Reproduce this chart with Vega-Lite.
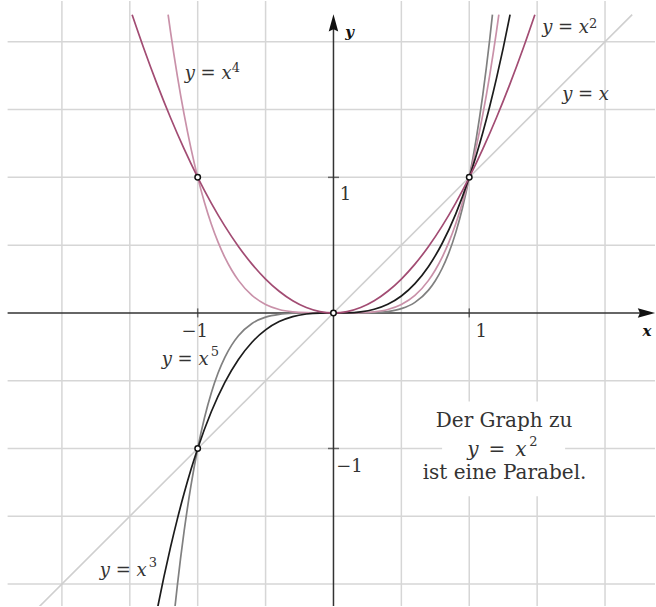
{
  "$schema": "https://vega.github.io/schema/vega-lite/v6.json",
  "autosize": {"type": "fit", "contains": "padding"},
  "width": 656,
  "height": 607,
  "padding": 0,
  "background": "white",
  "config": {"view": {"stroke": null}},
  "datasets": {
    "gridV": [{"v": -2}, {"v": -1.5}, {"v": -1}, {"v": -0.5}, {"v": 0.5}, {"v": 1}, {"v": 1.5}, {"v": 2}],
    "gridH": [{"h": -2}, {"h": -1.5}, {"h": -1}, {"h": -0.5}, {"h": 0.5}, {"h": 1}, {"h": 1.5}, {"h": 2}],
    "diag": [{"x": -2.2, "y": -2.2}, {"x": 2.2, "y": 2.2}],
    "box": [{"x1": 0.8, "x2": 1.706, "y1": -0.654, "y2": -1.353}],
    "curves": [
      {"f": "x5", "x": -1.1708, "y": -2.2}, {"f": "x5", "x": -1.15, "y": -2.0114}, {"f": "x5", "x": -1.1, "y": -1.6105}, {"f": "x5", "x": -1.05, "y": -1.2763}, {"f": "x5", "x": -1.0, "y": -1.0}, {"f": "x5", "x": -0.95, "y": -0.7738}, {"f": "x5", "x": -0.9, "y": -0.5905}, {"f": "x5", "x": -0.85, "y": -0.4437}, {"f": "x5", "x": -0.8, "y": -0.3277}, {"f": "x5", "x": -0.75, "y": -0.2373}, {"f": "x5", "x": -0.7, "y": -0.1681}, {"f": "x5", "x": -0.6, "y": -0.0778}, {"f": "x5", "x": -0.5, "y": -0.0313}, {"f": "x5", "x": -0.4, "y": -0.0102}, {"f": "x5", "x": -0.3, "y": -0.0024}, {"f": "x5", "x": -0.2, "y": -0.0003}, {"f": "x5", "x": -0.1, "y": 0}, {"f": "x5", "x": 0, "y": 0},
      {"f": "x5", "x": 0.1, "y": 0}, {"f": "x5", "x": 0.2, "y": 0.0003}, {"f": "x5", "x": 0.3, "y": 0.0024}, {"f": "x5", "x": 0.4, "y": 0.0102}, {"f": "x5", "x": 0.5, "y": 0.0313}, {"f": "x5", "x": 0.6, "y": 0.0778}, {"f": "x5", "x": 0.7, "y": 0.1681}, {"f": "x5", "x": 0.75, "y": 0.2373}, {"f": "x5", "x": 0.8, "y": 0.3277}, {"f": "x5", "x": 0.85, "y": 0.4437}, {"f": "x5", "x": 0.9, "y": 0.5905}, {"f": "x5", "x": 0.95, "y": 0.7738}, {"f": "x5", "x": 1.0, "y": 1.0}, {"f": "x5", "x": 1.05, "y": 1.2763}, {"f": "x5", "x": 1.1, "y": 1.6105}, {"f": "x5", "x": 1.15, "y": 2.0114}, {"f": "x5", "x": 1.1708, "y": 2.2},
      {"f": "x4", "x": -1.2179, "y": 2.2}, {"f": "x4", "x": -1.2, "y": 2.0736}, {"f": "x4", "x": -1.15, "y": 1.749}, {"f": "x4", "x": -1.1, "y": 1.4641}, {"f": "x4", "x": -1.05, "y": 1.2155}, {"f": "x4", "x": -1.0, "y": 1.0}, {"f": "x4", "x": -0.95, "y": 0.8145}, {"f": "x4", "x": -0.9, "y": 0.6561}, {"f": "x4", "x": -0.85, "y": 0.522}, {"f": "x4", "x": -0.8, "y": 0.4096}, {"f": "x4", "x": -0.75, "y": 0.3164}, {"f": "x4", "x": -0.7, "y": 0.2401}, {"f": "x4", "x": -0.6, "y": 0.1296}, {"f": "x4", "x": -0.5, "y": 0.0625}, {"f": "x4", "x": -0.4, "y": 0.0256}, {"f": "x4", "x": -0.3, "y": 0.0081}, {"f": "x4", "x": -0.2, "y": 0.0016}, {"f": "x4", "x": -0.1, "y": 0.0001}, {"f": "x4", "x": 0, "y": 0},
      {"f": "x4", "x": 0.1, "y": 0.0001}, {"f": "x4", "x": 0.2, "y": 0.0016}, {"f": "x4", "x": 0.3, "y": 0.0081}, {"f": "x4", "x": 0.4, "y": 0.0256}, {"f": "x4", "x": 0.5, "y": 0.0625}, {"f": "x4", "x": 0.6, "y": 0.1296}, {"f": "x4", "x": 0.7, "y": 0.2401}, {"f": "x4", "x": 0.75, "y": 0.3164}, {"f": "x4", "x": 0.8, "y": 0.4096}, {"f": "x4", "x": 0.85, "y": 0.522}, {"f": "x4", "x": 0.9, "y": 0.6561}, {"f": "x4", "x": 0.95, "y": 0.8145}, {"f": "x4", "x": 1.0, "y": 1.0}, {"f": "x4", "x": 1.05, "y": 1.2155}, {"f": "x4", "x": 1.1, "y": 1.4641}, {"f": "x4", "x": 1.15, "y": 1.749}, {"f": "x4", "x": 1.2, "y": 2.0736}, {"f": "x4", "x": 1.2179, "y": 2.2},
      {"f": "x3", "x": -1.3006, "y": -2.2}, {"f": "x3", "x": -1.25, "y": -1.9531}, {"f": "x3", "x": -1.2, "y": -1.728}, {"f": "x3", "x": -1.15, "y": -1.5209}, {"f": "x3", "x": -1.1, "y": -1.331}, {"f": "x3", "x": -1.05, "y": -1.1576}, {"f": "x3", "x": -1.0, "y": -1.0}, {"f": "x3", "x": -0.9, "y": -0.729}, {"f": "x3", "x": -0.8, "y": -0.512}, {"f": "x3", "x": -0.7, "y": -0.343}, {"f": "x3", "x": -0.6, "y": -0.216}, {"f": "x3", "x": -0.5, "y": -0.125}, {"f": "x3", "x": -0.4, "y": -0.064}, {"f": "x3", "x": -0.3, "y": -0.027}, {"f": "x3", "x": -0.2, "y": -0.008}, {"f": "x3", "x": -0.1, "y": -0.001}, {"f": "x3", "x": 0, "y": 0},
      {"f": "x3", "x": 0.1, "y": 0.001}, {"f": "x3", "x": 0.2, "y": 0.008}, {"f": "x3", "x": 0.3, "y": 0.027}, {"f": "x3", "x": 0.4, "y": 0.064}, {"f": "x3", "x": 0.5, "y": 0.125}, {"f": "x3", "x": 0.6, "y": 0.216}, {"f": "x3", "x": 0.7, "y": 0.343}, {"f": "x3", "x": 0.8, "y": 0.512}, {"f": "x3", "x": 0.9, "y": 0.729}, {"f": "x3", "x": 1.0, "y": 1.0}, {"f": "x3", "x": 1.05, "y": 1.1576}, {"f": "x3", "x": 1.1, "y": 1.331}, {"f": "x3", "x": 1.15, "y": 1.5209}, {"f": "x3", "x": 1.2, "y": 1.728}, {"f": "x3", "x": 1.25, "y": 1.9531}, {"f": "x3", "x": 1.3006, "y": 2.2},
      {"f": "x2", "x": -1.4832, "y": 2.2}, {"f": "x2", "x": -1.4, "y": 1.96}, {"f": "x2", "x": -1.3, "y": 1.69}, {"f": "x2", "x": -1.2, "y": 1.44}, {"f": "x2", "x": -1.1, "y": 1.21}, {"f": "x2", "x": -1.0, "y": 1.0}, {"f": "x2", "x": -0.9, "y": 0.81}, {"f": "x2", "x": -0.8, "y": 0.64}, {"f": "x2", "x": -0.7, "y": 0.49}, {"f": "x2", "x": -0.6, "y": 0.36}, {"f": "x2", "x": -0.5, "y": 0.25}, {"f": "x2", "x": -0.4, "y": 0.16}, {"f": "x2", "x": -0.3, "y": 0.09}, {"f": "x2", "x": -0.2, "y": 0.04}, {"f": "x2", "x": -0.1, "y": 0.01}, {"f": "x2", "x": 0, "y": 0},
      {"f": "x2", "x": 0.1, "y": 0.01}, {"f": "x2", "x": 0.2, "y": 0.04}, {"f": "x2", "x": 0.3, "y": 0.09}, {"f": "x2", "x": 0.4, "y": 0.16}, {"f": "x2", "x": 0.5, "y": 0.25}, {"f": "x2", "x": 0.6, "y": 0.36}, {"f": "x2", "x": 0.7, "y": 0.49}, {"f": "x2", "x": 0.8, "y": 0.64}, {"f": "x2", "x": 0.9, "y": 0.81}, {"f": "x2", "x": 1.0, "y": 1.0}, {"f": "x2", "x": 1.1, "y": 1.21}, {"f": "x2", "x": 1.2, "y": 1.44}, {"f": "x2", "x": 1.3, "y": 1.69}, {"f": "x2", "x": 1.4, "y": 1.96}, {"f": "x2", "x": 1.4832, "y": 2.2}
    ],
    "pts": [{"x": -1, "y": 1}, {"x": 1, "y": 1}, {"x": 0, "y": 0}, {"x": -1, "y": -1}],
    "ticksX": [{"t": -1}, {"t": 1}],
    "ticksY": [{"t": -1}, {"t": 1}],
    "curveLabels": [
      {"label": "y = x", "x": -1.0956, "y": 1.728},
      {"label": "y = x", "x": 1.537, "y": 2.066},
      {"label": "y = x", "x": 1.684, "y": 1.574},
      {"label": "y = x", "x": -1.265, "y": -0.382},
      {"label": "y = x", "x": -1.721, "y": -1.941}
    ],
    "boxMath": [{"label": "y\u2002=\u2002x", "x": 0.985, "y": -1.059}],
    "sups": [
      {"label": "4", "x": -0.75, "y": 1.779},
      {"label": "2", "x": 1.882, "y": 2.103},
      {"label": "5", "x": -0.904, "y": -0.316},
      {"label": "3", "x": -1.36, "y": -1.875},
      {"label": "2", "x": 1.441, "y": -0.985}
    ],
    "boxText": [
      {"label": "Der Graph zu", "x": 1.257, "y": -0.838},
      {"label": "ist eine Parabel.", "x": 1.26, "y": -1.228}
    ],
    "tickLabels": [
      {"label": "1", "x": 1.088, "y": -0.176},
      {"label": "−1", "x": -1.022, "y": -0.176},
      {"label": "1", "x": 0.088, "y": 0.831},
      {"label": "−1", "x": 0.118, "y": -1.176}
    ],
    "axisNames": [
      {"label": "x", "x": 2.309, "y": -0.169},
      {"label": "y", "x": 0.118, "y": 2.037}
    ],
    "arrowX": [{"x": 2.305, "y": 0}],
    "arrowY": [{"x": 0, "y": 2.14}]
  },
  "encoding": {
    "x": {"type": "quantitative", "scale": {"domain": [-2.456, 2.368], "nice": false, "zero": false}, "axis": null},
    "y": {"type": "quantitative", "scale": {"domain": [-2.162, 2.301], "nice": false, "zero": false}, "axis": null}
  },
  "layer": [
    {
      "data": {"name": "gridV"},
      "mark": {"type": "rule", "color": "#d6d6d6", "strokeWidth": 1.5},
      "encoding": {"x": {"field": "v", "type": "quantitative"}}
    },
    {
      "data": {"name": "gridH"},
      "mark": {"type": "rule", "color": "#d6d6d6", "strokeWidth": 1.5, "clip": true},
      "encoding": {
        "y": {"field": "h", "type": "quantitative"},
        "x": {"datum": -2.4},
        "x2": {"datum": 2.5}
      }
    },
    {
      "data": {"name": "diag"},
      "mark": {"type": "line", "color": "#cfcfcf", "strokeWidth": 1.6, "clip": true},
      "encoding": {"x": {"field": "x", "type": "quantitative"}, "y": {"field": "y", "type": "quantitative"}}
    },
    {
      "data": {"name": "box"},
      "mark": {"type": "rect", "color": "white"},
      "encoding": {
        "x": {"field": "x1", "type": "quantitative"},
        "x2": {"field": "x2"},
        "y": {"field": "y1", "type": "quantitative"},
        "y2": {"field": "y2"}
      }
    },
    {
      "data": {"values": [{}]},
      "mark": {"type": "rule", "color": "#333333", "strokeWidth": 1.5},
      "encoding": {"x": {"datum": -2.4}, "x2": {"datum": 2.26}, "y": {"datum": 0}}
    },
    {
      "data": {"values": [{}]},
      "mark": {"type": "rule", "color": "#333333", "strokeWidth": 1.5, "clip": true},
      "encoding": {"y": {"datum": -2.3}, "y2": {"datum": 2.1}, "x": {"datum": 0}}
    },
    {
      "data": {"name": "arrowX"},
      "mark": {"type": "point", "shape": "M1,0L-1,-0.55L-0.75,0L-1,0.55Z", "filled": true, "color": "#111111", "size": 300, "opacity": 1, "strokeWidth": 0},
      "encoding": {"x": {"field": "x", "type": "quantitative"}, "y": {"field": "y", "type": "quantitative"}}
    },
    {
      "data": {"name": "arrowY"},
      "mark": {"type": "point", "shape": "M0,-1L-0.55,1L0,0.75L0.55,1Z", "filled": true, "color": "#111111", "size": 300, "opacity": 1, "strokeWidth": 0},
      "encoding": {"x": {"field": "x", "type": "quantitative"}, "y": {"field": "y", "type": "quantitative"}}
    },
    {
      "data": {"name": "ticksX"},
      "mark": {"type": "tick", "orient": "vertical", "color": "#333333", "size": 9, "thickness": 1.5},
      "encoding": {"x": {"field": "t", "type": "quantitative"}, "y": {"datum": 0}}
    },
    {
      "data": {"name": "ticksY"},
      "mark": {"type": "tick", "orient": "horizontal", "color": "#333333", "size": 11, "thickness": 1.5},
      "encoding": {"y": {"field": "t", "type": "quantitative"}, "x": {"datum": 0}}
    },
    {
      "data": {"name": "curves"},
      "mark": {"type": "line", "strokeWidth": 1.7, "interpolate": "monotone", "clip": true},
      "encoding": {
        "x": {"field": "x", "type": "quantitative"},
        "y": {"field": "y", "type": "quantitative"},
        "color": {"field": "f", "type": "nominal", "legend": null,
          "scale": {"domain": ["x5", "x4", "x3", "x2"], "range": ["#808080", "#c991a9", "#1c1c1c", "#a24c73"]}}
      }
    },
    {
      "data": {"name": "pts"},
      "mark": {"type": "point", "filled": true, "fill": "white", "stroke": "#111111", "strokeWidth": 1.5, "size": 30, "opacity": 1},
      "encoding": {"x": {"field": "x", "type": "quantitative"}, "y": {"field": "y", "type": "quantitative"}}
    },
    {
      "data": {"name": "curveLabels"},
      "mark": {"type": "text", "font": "DejaVu Serif", "fontStyle": "italic", "fontSize": 18, "color": "#333333", "align": "left", "baseline": "alphabetic"},
      "encoding": {"x": {"field": "x", "type": "quantitative"}, "y": {"field": "y", "type": "quantitative"}, "text": {"field": "label"}}
    },
    {
      "data": {"name": "boxMath"},
      "mark": {"type": "text", "font": "DejaVu Serif", "fontStyle": "italic", "fontSize": 20, "color": "#333333", "align": "left", "baseline": "alphabetic"},
      "encoding": {"x": {"field": "x", "type": "quantitative"}, "y": {"field": "y", "type": "quantitative"}, "text": {"field": "label"}}
    },
    {
      "data": {"name": "sups"},
      "mark": {"type": "text", "font": "DejaVu Serif", "fontSize": 13, "color": "#333333", "align": "left", "baseline": "alphabetic"},
      "encoding": {"x": {"field": "x", "type": "quantitative"}, "y": {"field": "y", "type": "quantitative"}, "text": {"field": "label"}}
    },
    {
      "data": {"name": "boxText"},
      "mark": {"type": "text", "font": "DejaVu Serif", "fontSize": 20, "color": "#333333", "align": "center", "baseline": "alphabetic"},
      "encoding": {"x": {"field": "x", "type": "quantitative"}, "y": {"field": "y", "type": "quantitative"}, "text": {"field": "label"}}
    },
    {
      "data": {"name": "tickLabels"},
      "mark": {"type": "text", "font": "DejaVu Serif", "fontSize": 18, "color": "#333333", "align": "center", "baseline": "alphabetic"},
      "encoding": {"x": {"field": "x", "type": "quantitative"}, "y": {"field": "y", "type": "quantitative"}, "text": {"field": "label"}}
    },
    {
      "data": {"name": "axisNames"},
      "mark": {"type": "text", "font": "DejaVu Serif", "fontStyle": "italic", "fontWeight": "bold", "fontSize": 15, "color": "#111111", "align": "center", "baseline": "alphabetic"},
      "encoding": {"x": {"field": "x", "type": "quantitative"}, "y": {"field": "y", "type": "quantitative"}, "text": {"field": "label"}}
    }
  ]
}
